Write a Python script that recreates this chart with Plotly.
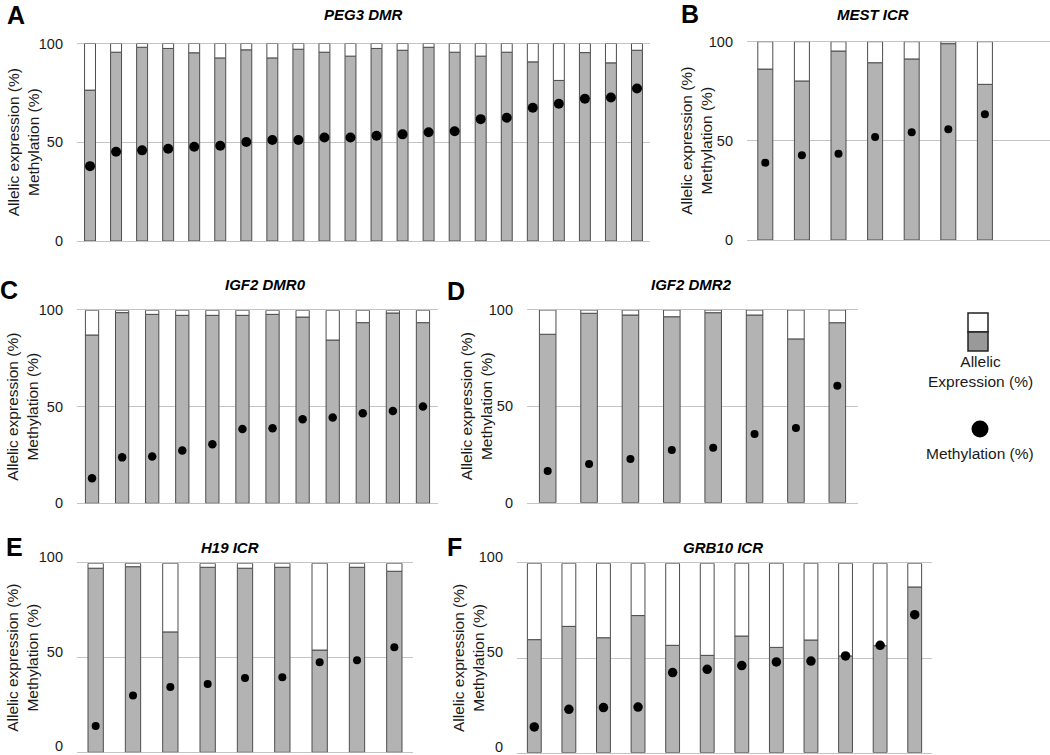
import plotly.graph_objects as go

W, H = 1050, 755

# ---------------- data ----------------
peg3_allelic = [76.4, 95.6, 98.1, 97.5, 95.3, 92.7, 96.8, 92.7, 97.1, 95.6, 93.6,
                97.5, 96.6, 98.1, 95.6, 93.6, 95.6, 90.7, 81.3, 95.4, 90.2, 96.6]
peg3_meth = [37.9, 45.2, 45.9, 46.7, 47.7, 48.2, 50.1, 51.1, 51.1, 52.4, 52.4,
             53.3, 54.0, 55.1, 55.6, 61.7, 62.4, 67.5, 69.5, 72.0, 72.7, 77.2]

mest_allelic = [86.2, 80.2, 95.3, 89.4, 91.3, 99.0, 78.5]
mest_meth = [39.0, 42.7, 43.5, 51.9, 54.3, 55.8, 63.4]

igf2dmr0_allelic = [87.2, 98.8, 97.9, 97.4, 97.4, 97.4, 97.9, 96.5, 84.6, 93.6, 98.6, 93.6]
igf2dmr0_meth = [13.0, 23.8, 24.2, 27.3, 30.6, 38.5, 38.9, 43.5, 44.4, 46.6, 47.8, 50.1]

igf2dmr2_allelic = [87.4, 98.3, 97.4, 96.5, 98.6, 97.4, 85.0, 93.4]
igf2dmr2_meth = [16.4, 20.1, 22.7, 27.3, 28.5, 35.7, 38.8, 60.7]

h19_allelic = [97.4, 98.2, 63.7, 97.9, 97.4, 97.9, 54.1, 97.9, 95.8]
h19_meth = [13.9, 30.0, 34.6, 36.2, 39.3, 39.7, 47.6, 48.7, 55.6]

grb10_allelic = [59.7, 66.7, 60.7, 72.4, 56.7, 51.4, 61.6, 55.6, 59.5, 51.1, 56.5, 87.5]
grb10_meth = [13.6, 22.9, 23.8, 24.1, 42.3, 44.0, 46.0, 47.9, 48.4, 51.1, 56.7, 72.9]

y_ticks = [0, 50, 100]
y_title = "Allelic expression (%)<br>Methylation (%)"

# ---------------- layout geometry (pixels) ----------------
panels = [
    dict(letter="A", title="PEG3 DMR", allelic=peg3_allelic, meth=peg3_meth,
         x0=77, x1=650, ytop=43.5, ybot=241, step=None, bw=0.42, dot=10, lshift=0,
         letter_xy=(16, 15), title_xy=(363, 14), ytitle_x=23),
    dict(letter="B", title="MEST ICR", allelic=mest_allelic, meth=mest_meth,
         x0=747, x1=1050, ytop=41.7, ybot=240, step=36.6, bw=0.41, dot=8, lshift=0,
         letter_xy=(690, 14), title_xy=(873, 15), ytitle_x=697),
    dict(letter="C", title="IGF2 DMR0", allelic=igf2dmr0_allelic, meth=igf2dmr0_meth,
         x0=77, x1=438, ytop=310.3, ybot=503.3, step=None, bw=0.44, dot=8.5, lshift=0,
         letter_xy=(9, 290), title_xy=(265, 285), ytitle_x=23),
    dict(letter="D", title="IGF2 DMR2", allelic=igf2dmr2_allelic, meth=igf2dmr2_meth,
         x0=527, x1=858, ytop=310, ybot=502.7, step=None, bw=0.40, dot=8, lshift=0,
         letter_xy=(456, 291), title_xy=(692, 285), ytitle_x=476),
    dict(letter="E", title="H19 ICR", allelic=h19_allelic, meth=h19_meth,
         x0=77, x1=413, ytop=563.3, ybot=752.3, step=None, bw=0.41, dot=8, lshift=-6,
         letter_xy=(14, 547), title_xy=(230, 547), ytitle_x=23),
    dict(letter="F", title="GRB10 ICR", allelic=grb10_allelic, meth=grb10_meth,
         x0=517, x1=932, ytop=563.3, ybot=752.7, step=None, bw=0.40, dot=9.5, lshift=-6,
         letter_xy=(454, 547), title_xy=(723, 547), ytitle_x=468),
]

FONT = "Liberation Sans, Arial, sans-serif"
BAR_GRAY = "#b3b3b3"
EDGE = "#4d4d4d"
GRID = "#c4c4c4"

fig = go.Figure()
layout = dict(
    width=W, height=H, autosize=False,
    margin=dict(l=0, r=0, t=0, b=0, autoexpand=False),
    paper_bgcolor="white", plot_bgcolor="white",
    showlegend=False, barmode="overlay",
    font=dict(family=FONT, color="#1a1a1a"),
)
annotations = []
shapes = []

for i, p in enumerate(panels, start=1):
    sfx = "" if i == 1 else str(i)
    xa, ya = "x" + sfx, "y" + sfx
    n = len(p["allelic"])
    xs = list(range(n))
    white = [100 - a for a in p["allelic"]]

    fig.add_trace(go.Bar(x=xs, y=p["allelic"], width=p["bw"], xaxis=xa, yaxis=ya,
                         marker=dict(color=BAR_GRAY, line=dict(color=EDGE, width=1))))
    fig.add_trace(go.Bar(x=xs, y=white, base=p["allelic"], width=p["bw"], xaxis=xa, yaxis=ya,
                         marker=dict(color="white", line=dict(color=EDGE, width=1))))
    fig.add_trace(go.Scatter(x=xs, y=p["meth"], mode="markers", xaxis=xa, yaxis=ya,
                             cliponaxis=False,
                             marker=dict(color="black", size=p["dot"], line=dict(width=0))))

    if p["step"] is None:
        xr = [-0.5, n - 0.5]
    else:
        xr = [-0.5, -0.5 + (p["x1"] - p["x0"]) / p["step"]]

    layout["xaxis" + sfx] = dict(
        domain=[p["x0"] / W, p["x1"] / W], range=xr, anchor=ya,
        showgrid=False, zeroline=False, showline=True, mirror=True,
        linecolor=GRID, linewidth=1, layer="below traces",
        showticklabels=False, ticks="", automargin=False, fixedrange=True,
    )
    layout["yaxis" + sfx] = dict(
        domain=[1 - p["ybot"] / H, 1 - p["ytop"] / H], range=[0, 100], anchor=xa,
        tickvals=y_ticks, ticktext=[str(t) for t in y_ticks],
        showgrid=True, gridcolor=GRID, gridwidth=1, zeroline=False, showline=False,
        ticks="", ticklabelstandoff=13, ticklabelshift=p["lshift"],
        ticklabeloverflow="allow",
        tickfont=dict(size=14.5, family=FONT, color="#1a1a1a"),
        automargin=False, fixedrange=True,
    )

    lx, ly = p["letter_xy"]
    annotations.append(dict(text="<b>%s</b>" % p["letter"], x=lx / W, y=1 - ly / H,
                            xref="paper", yref="paper", xanchor="center", yanchor="middle",
                            showarrow=False, font=dict(size=25, family=FONT, color="black")))
    tx, ty = p["title_xy"]
    annotations.append(dict(text="<b><i>%s</i></b>" % p["title"], x=tx / W, y=1 - ty / H,
                            xref="paper", yref="paper", xanchor="center", yanchor="middle",
                            showarrow=False, font=dict(size=15, family=FONT, color="black")))
    annotations.append(dict(text=y_title, x=p["ytitle_x"] / W,
                            y=1 - (p["ytop"] + p["ybot"]) / 2 / H,
                            xref="paper", yref="paper", xanchor="center", yanchor="middle",
                            textangle=-90, showarrow=False,
                            font=dict(size=15.5, family=FONT, color="#1a1a1a")))

# ---------------- manual key (legend) ----------------
def px(x):
    return x / W

def py(y):
    return 1 - y / H

shapes.append(dict(type="rect", xref="paper", yref="paper",
                   x0=px(968), x1=px(988), y0=py(332), y1=py(313),
                   fillcolor="white", line=dict(color="#222", width=1.5)))
shapes.append(dict(type="rect", xref="paper", yref="paper",
                   x0=px(968), x1=px(988), y0=py(351), y1=py(332),
                   fillcolor="#999999", line=dict(color="#222", width=1.5)))
shapes.append(dict(type="circle", xref="paper", yref="paper",
                   x0=px(971.5), x1=px(988.5), y0=py(437.5), y1=py(420.5),
                   fillcolor="black", line=dict(color="black", width=0)))
annotations.append(dict(text="Allelic<br>Expression (%)", x=px(980), y=py(372),
                        xref="paper", yref="paper", xanchor="center", yanchor="middle",
                        showarrow=False, font=dict(size=15.5, family=FONT, color="#1a1a1a")))
annotations.append(dict(text="Methylation (%)", x=px(980), y=py(453),
                        xref="paper", yref="paper", xanchor="center", yanchor="middle",
                        showarrow=False, font=dict(size=15.5, family=FONT, color="#1a1a1a")))

layout["annotations"] = annotations
layout["shapes"] = shapes
fig.update_layout(**layout)

fig.write_html(
    "out.html",
    config={"displayModeBar": False},
    post_script="document.body.style.margin='0';document.body.style.padding='0';"
                "document.body.style.overflow='hidden';",
)
